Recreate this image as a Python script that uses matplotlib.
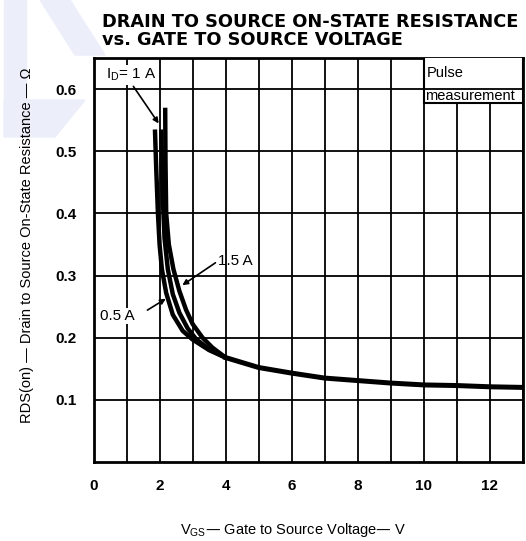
import matplotlib
matplotlib.use('Agg')
import matplotlib.pyplot as plt
from matplotlib.patches import Rectangle, Polygon

# curves (VGS in V, RDS(on) in ohm)
v_05 = [1.86, 1.9, 1.95, 2.0, 2.07, 2.2, 2.4, 2.7, 3.0, 3.5, 4.0]
r_05 = [0.535, 0.47, 0.40, 0.35, 0.31, 0.272, 0.237, 0.211, 0.197, 0.18, 0.168]
v_10 = [2.05, 2.07, 2.1, 2.15, 2.25, 2.4, 2.6, 2.85, 3.1, 3.5, 4.0]
r_10 = [0.535, 0.48, 0.42, 0.36, 0.31, 0.27, 0.24, 0.215, 0.198, 0.181, 0.168]
v_15 = [2.17, 2.18, 2.2, 2.28, 2.42, 2.6, 2.8, 3.0, 3.3, 3.6, 4.0]
r_15 = [0.57, 0.48, 0.40, 0.35, 0.31, 0.275, 0.245, 0.222, 0.2, 0.184, 0.168]
# common tail of all three curves
v_tail = [4.0, 5, 6, 7, 8, 9, 10, 11, 12, 13]
r_tail = [0.168, 0.152, 0.143, 0.135, 0.131, 0.127, 0.124, 0.123, 0.121, 0.12]

x_ticks = [0, 2, 4, 6, 8, 10, 12]
y_ticks = [0.1, 0.2, 0.3, 0.4, 0.5, 0.6]

W, H = 526, 541
fig = plt.figure(figsize=(W / 100, H / 100), dpi=100)


def px(points):
    return [(x / W, 1 - y / H) for x, y in points]


# faint watermark in the top left corner
wm = '#eceffa'
for pts in ([(4, 0), (26, 0), (26, 100), (4, 100)],
            [(40, 0), (70, 0), (105, 55), (75, 55)],
            [(4, 100), (85, 100), (55, 137), (4, 137)]):
    fig.patches.append(Polygon(px(pts), closed=True, transform=fig.transFigure,
                               color=wm, zorder=-1))

ax = fig.add_axes([93.5 / W, 1 - 462 / H, (523 - 93.5) / W, (462 - 58) / H])
ax.set_zorder(1)
ax.patch.set_alpha(0)

for v, r in [(v_05, r_05), (v_10, r_10), (v_15, r_15)]:
    ax.plot(v, r, color='black', lw=3.2, solid_capstyle='butt', zorder=3)
ax.plot(v_tail, r_tail, color='black', lw=3.6, zorder=3)

ax.set_xlim(0, 13)
ax.set_ylim(0, 0.65)
ax.set_xticks(x_ticks)
ax.set_xticks(range(0, 14), minor=True)
ax.set_yticks(y_ticks)
ax.grid(True, which='both', color='black', lw=1.3)
ax.set_axisbelow(True)
ax.tick_params(which='both', length=0)
ax.tick_params(axis='x', pad=12)
ax.tick_params(axis='y', pad=12)
for lab in ax.get_xticklabels() + ax.get_yticklabels():
    lab.set_fontfamily('Liberation Sans')
    lab.set_fontweight('bold')
    lab.set_fontsize(11)
for s in ax.spines.values():
    s.set_linewidth(2)

# pulse measurement box (0.6 grid line runs through it)
ax.add_patch(Rectangle((10, 0.578), 3, 0.08, facecolor='white', edgecolor='black', lw=1.5, zorder=4))
ax.axhline(0.6, xmin=10 / 13, xmax=1, color='black', lw=1.3, zorder=4)
ax.text(10.08, 0.62, 'Pulse', fontsize=10.5, family='Liberation Sans', va='baseline', zorder=5)
ax.text(10.05, 0.582, 'measurement', fontsize=10.5, family='Liberation Sans', va='baseline', zorder=5,
        clip_on=True)

# curve labels
ax.text(0.38, 0.623, r'I$_\mathregular{D}$= 1 A', fontsize=11, family='Liberation Sans', va='center',
        bbox=dict(facecolor='white', edgecolor='none', pad=1), zorder=5)
ax.annotate('', xy=(2.02, 0.541), xytext=(1.16, 0.608),
            arrowprops=dict(arrowstyle='-|>', color='black', lw=1.2, mutation_scale=8), zorder=5)
ax.text(3.77, 0.324, '1.5 A', fontsize=11, family='Liberation Sans', va='center', zorder=5)
ax.annotate('', xy=(2.62, 0.282), xytext=(3.76, 0.323),
            arrowprops=dict(arrowstyle='-|>', color='black', lw=1.2, mutation_scale=8), zorder=5)
ax.text(0.2, 0.235, '0.5 A', fontsize=11, family='Liberation Sans', va='center',
        bbox=dict(facecolor='white', edgecolor='none', pad=0.5), zorder=5)
ax.annotate('', xy=(2.26, 0.265), xytext=(1.56, 0.242),
            arrowprops=dict(arrowstyle='-|>', color='black', lw=1.2, mutation_scale=8), zorder=5)

# titles and axis labels
fig.text(102 / W, 1 - 22 / H, 'DRAIN TO SOURCE ON-STATE RESISTANCE', fontsize=12.8,
         fontweight='bold', family='DejaVu Sans', va='center', ha='left')
fig.text(102 / W, 1 - 40 / H, 'vs. GATE TO SOURCE VOLTAGE', fontsize=12.8,
         fontweight='bold', family='DejaVu Sans', va='center', ha='left')
fig.text(27 / W, 1 - 245 / H, 'RDS(on) — Drain to Source On-State Resistance — Ω',
         rotation=90, fontsize=10.5, family='Liberation Sans', va='center', ha='center')
fig.text(293 / W, 1 - 530 / H, r'V$_\mathregular{GS}$— Gate to Source Voltage— V',
         fontsize=10.5, family='Liberation Sans', va='center', ha='center')

fig.savefig('out.png', dpi=100)
